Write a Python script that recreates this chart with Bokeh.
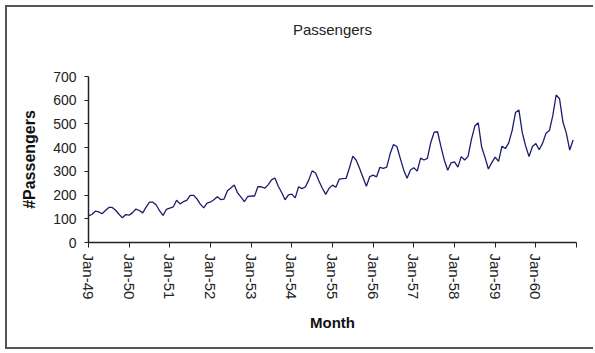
from bokeh.plotting import figure
from bokeh.models import Range1d, FixedTicker
from bokeh.embed import file_html
from bokeh.resources import INLINE

tick_labels = ["Jan-49", "Jan-50", "Jan-51", "Jan-52", "Jan-53", "Jan-54",
               "Jan-55", "Jan-56", "Jan-57", "Jan-58", "Jan-59", "Jan-60"]

pax_1949 = [112, 118, 132, 129, 121, 135, 148, 148, 136, 119, 104, 118]
pax_1950 = [115, 126, 141, 135, 125, 149, 170, 170, 158, 133, 114, 140]
pax_1951 = [145, 150, 178, 163, 172, 178, 199, 199, 184, 162, 146, 166]
pax_1952 = [171, 180, 193, 181, 183, 218, 230, 242, 209, 191, 172, 194]
pax_1953 = [196, 196, 236, 235, 229, 243, 264, 272, 237, 211, 180, 201]
pax_1954 = [204, 188, 235, 227, 234, 264, 302, 293, 259, 229, 203, 229]
pax_1955 = [242, 233, 267, 269, 270, 315, 364, 347, 312, 274, 237, 278]
pax_1956 = [284, 277, 317, 313, 318, 374, 413, 405, 355, 306, 271, 306]
pax_1957 = [315, 301, 356, 348, 355, 422, 465, 467, 404, 347, 305, 336]
pax_1958 = [340, 318, 362, 348, 363, 435, 491, 505, 404, 359, 310, 337]
pax_1959 = [360, 342, 406, 396, 420, 472, 548, 559, 463, 407, 362, 405]
pax_1960 = [417, 391, 419, 461, 472, 535, 622, 606, 508, 461, 390, 432]

passengers = (pax_1949 + pax_1950 + pax_1951 + pax_1952 + pax_1953 + pax_1954 +
              pax_1955 + pax_1956 + pax_1957 + pax_1958 + pax_1959 + pax_1960)
month_index = list(range(len(passengers)))

FONT = "Liberation Sans"

p = figure(width=588, height=344, output_backend="svg", toolbar_location=None,
           x_range=Range1d(0, len(passengers)), y_range=Range1d(0, 700),
           title="Passengers\n \n ",
           min_border_left=81, min_border_right=19, min_border_top=69, min_border_bottom=109)
p.styles = {"border-left": "2px solid #555555", "border-top": "2px solid #555555",
            "border-bottom": "2px solid #555555",
            "margin-left": "5px", "margin-top": "5px"}

p.line(month_index, passengers, line_color="#1c1c6e", line_width=1.3)

p.title.align = "center"
p.title.text_font = FONT
p.title.text_font_size = "15px"
p.title.text_font_style = "normal"
p.title.text_color = "#222222"
p.title.standoff = 10

p.xgrid.visible = False
p.ygrid.visible = False
p.outline_line_color = None
p.background_fill_color = "white"
p.border_fill_color = "white"

ticks = [12 * i for i in range(len(tick_labels) + 1)]
p.xaxis.ticker = FixedTicker(ticks=ticks)
overrides = {12 * i: lab for i, lab in enumerate(tick_labels)}
overrides[12 * len(tick_labels)] = ""
p.xaxis.major_label_overrides = overrides
p.xaxis.major_label_orientation = "vertical"
p.yaxis.ticker = FixedTicker(ticks=list(range(0, 701, 100)))

for ax in (p.xaxis[0], p.yaxis[0]):
    ax.axis_line_color = "#222222"
    ax.axis_line_width = 1.5
    ax.major_tick_line_color = "#222222"
    ax.major_tick_in = 0
    ax.minor_tick_line_color = None
    ax.major_label_text_font = FONT
    ax.major_label_text_color = "#222222"
    ax.axis_label_text_font = FONT
    ax.axis_label_text_font_style = "bold"
    ax.axis_label_text_color = "#111111"

p.xaxis.major_tick_out = 5
p.xaxis.major_label_standoff = 6
p.xaxis.major_label_text_font_size = "15px"
p.xaxis.axis_label = "Month"
p.xaxis.axis_label_text_font_size = "15px"
p.xaxis.axis_label_standoff = 12

p.yaxis.major_tick_out = 4
p.yaxis.major_label_standoff = 8
p.yaxis.major_label_text_font_size = "14px"
p.yaxis.axis_label = "#Passengers"
p.yaxis.axis_label_text_font_size = "16px"
p.yaxis.axis_label_standoff = 12

open("out.html", "w").write(file_html(p, INLINE))
